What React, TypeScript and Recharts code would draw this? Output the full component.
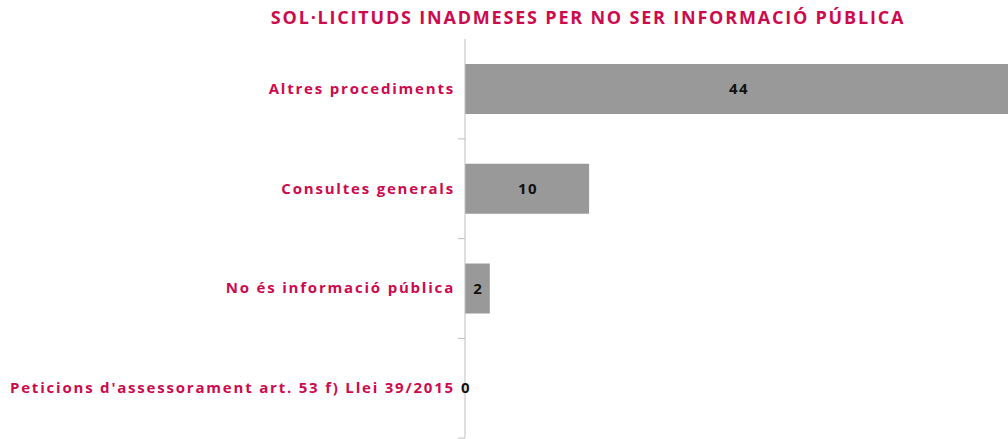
import React from 'react';
import { BarChart, Bar, XAxis, YAxis } from 'recharts';

const categories = [
  'Altres procediments',
  'Consultes generals',
  'No és informació pública',
  "Peticions d'assessorament art. 53 f) Llei 39/2015",
];
const values = [44, 10, 2, 0];

const TITLE = 'SOL·LICITUDS INADMESES PER NO SER INFORMACIÓ PÚBLICA';
const CRIMSON = '#cc0a4e';

const data = categories.map((name, i) => ({ name, value: values[i] }));

// label at band centre, small tick mark at the band's lower edge
const CategoryTick = (props: any) => {
  const { x, y, payload } = props;
  return (
    <g>
      <line x1={x + 3} x2={x + 10} y1={y + 50} y2={y + 50} stroke="#bfbfbf" />
      <text
        x={x}
        y={y}
        dy={5}
        textAnchor="end"
        fill={CRIMSON}
        fontFamily="'Open Sans', sans-serif"
        fontWeight={700}
        fontSize={15}
        letterSpacing={1.8}
      >
        {payload.value}
      </text>
    </g>
  );
};

const renderValue = (props: any) => {
  const { x, y, width, height, value } = props;
  return (
    <text
      key={`v-${y}`}
      x={x + width / 2 + 1}
      y={y + height / 2}
      dy={5}
      textAnchor="middle"
      fill="#111"
      fontFamily="'Open Sans', sans-serif"
      fontWeight={700}
      fontSize={15}
      letterSpacing={1.5}
    >
      {value}
    </text>
  );
};

export default function App() {
  return (
    <div
      style={{
        position: 'fixed',
        left: 0,
        top: 0,
        width: 1008,
        height: 439,
        overflow: 'hidden',
        background: '#fff',
      }}
    >
      <div
        style={{
          position: 'absolute',
          left: 0,
          top: 5,
          width: 1176,
          textAlign: 'center',
          color: CRIMSON,
          fontFamily: "'Open Sans', sans-serif",
          fontWeight: 700,
          fontSize: 18,
          letterSpacing: 1.8,
        }}
      >
        {TITLE}
      </div>
      <BarChart
        width={1020}
        height={439}
        data={data}
        layout="vertical"
        margin={{ top: 39, right: 9, bottom: 1, left: 0 }}
      >
        <XAxis type="number" domain={[0, 44]} hide />
        <YAxis
          type="category"
          dataKey="name"
          width={465}
          tickLine={false}
          axisLine={{ stroke: '#bfbfbf' }}
          tick={<CategoryTick />}
          tickMargin={4}
          interval={0}
        />
        <Bar
          dataKey="value"
          fill="#999999"
          barSize={50}
          minPointSize={0.01}
          isAnimationActive={false}
          label={renderValue}
        />
      </BarChart>
    </div>
  );
}
